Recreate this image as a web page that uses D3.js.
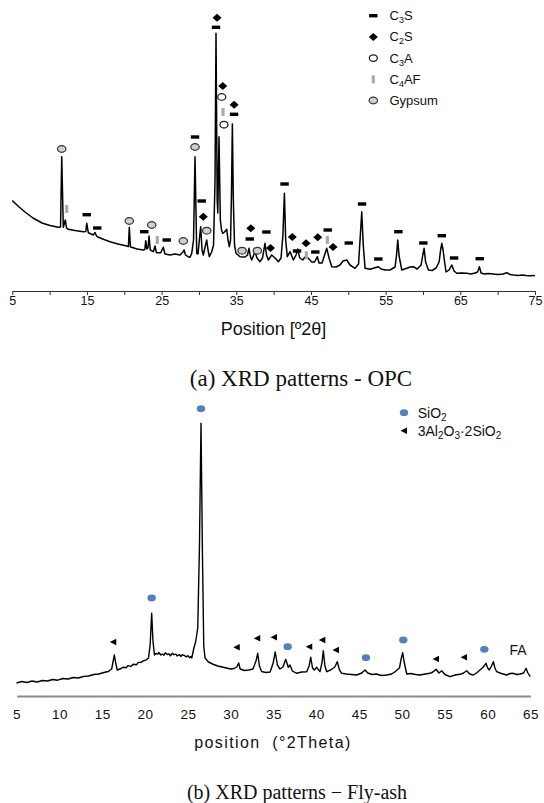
<!DOCTYPE html>
<html>
<head>
<meta charset="utf-8">
<script src="https://cdn.jsdelivr.net/npm/d3@7/dist/d3.min.js"></script>
<style>
  html, body { margin: 0; padding: 0; background: #fff; }
  svg { display: block; }
  text { font-family: "Liberation Sans", Arial, sans-serif; fill: #111; }
  .cap { font-family: "Liberation Serif", "Times New Roman", serif; }
</style>
</head>
<body>
<svg id="chart" width="544" height="803"></svg>
<script>
// ---------- OPC diffraction trace: [2θ, intensity] ----------
const opcTrace = [
  [5.00,90.5],[5.76,85],[6.70,79],[7.77,73],[8.98,68],[10.05,65.5],[11.16,63.7],[11.46,64],
  [11.62,134.3],[11.83,63.7],[12.10,71],[12.26,63],[12.50,61.7],[13.40,60.5],[14.51,59.3],
  [14.84,59.5],[14.97,67.7],[15.18,58.3],[15.85,56],[16.08,58.5],[16.28,55],[16.52,53.7],
  [17.28,51.5],[18.09,49.3],[19.16,47],[20.32,45],[20.55,44.5],[20.67,63.7],[20.82,44],
  [20.99,43.7],[21.70,42],[22.55,41],[22.75,41.5],[22.87,50.3],[23.01,42],[23.17,43],
  [23.31,55],[23.48,41],[23.89,39.3],[24.11,45],[24.29,38.3],[24.88,38.3],[25.22,43.7],
  [25.45,37],[26.12,36],[26.79,37],[27.46,36],[27.86,39],[28.00,41],[28.20,36],[28.53,34.3],
  [28.80,33.7],[29.03,37.7],[29.27,51],[29.47,134.3],[29.70,37.7],[29.87,37],[30.11,56],
  [30.23,64.3],[30.41,41],[30.58,36],[30.88,46],[31.04,51],[31.21,41],[31.39,34.3],
  [31.71,39.3],[31.95,46],[32.15,111],[32.28,257.7],[32.44,91],[32.52,78],[32.68,154.3],
  [32.86,71],[33.02,61],[33.18,57.7],[33.42,59],[33.72,61.7],[33.89,51],[34.06,44.3],
  [34.23,51],[34.36,101],[34.47,167],[34.60,91],[34.76,46],[34.96,37.7],[35.50,34.3],
  [36.17,34],[36.50,36],[36.70,42.7],[36.87,35],[37.06,31],[37.50,39.3],[37.77,33],
  [38.17,29.3],[38.51,33],[38.84,47.7],[39.04,36],[39.29,31],[39.74,36],[40.19,33],
  [40.63,29.3],[40.99,33],[41.24,56],[41.44,97.7],[41.61,51],[41.83,34.3],[42.20,39.3],
  [42.64,31],[43.00,36],[43.23,42],[43.50,33],[43.90,31],[44.21,34],[44.61,33],[45.10,29],
  [45.48,29],[45.85,34.3],[46.08,28],[46.48,28],[46.82,36],[47.11,42.7],[47.42,33],
  [47.78,24.3],[48.36,24],[48.89,26],[49.29,30],[49.79,31],[50.23,26],[50.90,22.7],
  [51.37,27],[51.61,56],[51.80,79.3],[52.00,46],[52.24,22.7],[52.91,21.7],[53.45,23],
  [54.02,24.3],[54.38,22],[54.92,21],[55.59,21],[56.26,24],[56.46,36],[56.62,51],[56.80,35],
  [57.16,21],[57.83,22.7],[58.27,24],[58.72,24.3],[59.21,22],[59.75,26],[59.97,36],
  [60.15,42.7],[60.35,29],[60.73,21],[61.22,20.5],[61.76,23],[62.16,29],[62.36,41],
  [62.52,47.7],[62.69,41],[62.89,29],[63.09,19],[63.49,21],[63.85,26],[64.16,20],
  [64.52,17.7],[65.23,18],[65.86,17.7],[66.44,17],[66.97,18],[67.31,19],[67.55,24.3],
  [67.78,18],[68.18,17],[68.71,17.5],[69.42,17],[70.05,16.5],[70.72,17],[71.22,18.3],
  [71.66,16.5],[72.10,16],[72.73,15.5],[73.27,16],[73.80,15.5],[74.34,15.2],[75.00,15.5]
];

// Phase labels above the OPC peaks: [2θ, height of the label]
const c3sPeaks = [[14.97,76.3],[16.38,63],[22.68,59.3],[25.68,51],[29.47,154],[30.37,90],
  [32.28,263.7],[34.70,176.7],[36.80,52],[39.03,59],[41.46,107],[43.13,40],[45.58,39],
  [47.24,61],[50.06,48],[51.84,87],[54.02,32],[56.70,59.3],[60.05,48],[62.52,55.3],
  [64.16,33],[67.60,32.3]];
const c2sPeaks = [[30.58,74.3],[32.42,273.3],[33.18,205],[34.70,186.3],[36.94,62.7],
  [39.58,43],[42.50,54],[44.34,47.7],[45.91,53.7],[47.96,44]];
const c3aPeaks = [[33.05,194],[33.35,166.3]];
const c4afPeaks = [[12.29,82],[24.42,51],[33.22,179],[44.38,35.7],[47.19,51]];
const gypsumPeaks = [[11.62,142],[20.67,70],[23.67,66],[27.90,50],[29.47,144],[31.04,60.3],
  [35.77,40.3],[37.82,40.3]];

const opcTicks = [5,10,15,20,25,30,35,40,45,50,55,60,65,70,75];
const opcTickLabels = [5,15,25,35,45,55,65,75];

// ---------- Fly-ash diffraction trace: [2θ, intensity] ----------
const faTrace = [
  [5.0,13],[5.6,14.5],[6.2,13.5],[6.8,15],[7.4,14],[8.0,15.5],[8.6,15],[9.2,16.5],[9.8,15.8],
  [10.4,17.5],[11.0,17],[11.6,18.5],[12.2,18],[12.8,19.5],[13.4,20],[14.0,21.5],[14.6,22],
  [15.2,23.5],[15.7,24.5],[16.1,27],[16.3,36],[16.41,41],[16.55,34],[16.75,26],[17.2,27.5],
  [17.45,28.8],[17.8,28.2],[18.0,30.4],[18.35,29.6],[18.6,31.8],[19.0,31.2],[19.2,33.6],
  [19.55,33.8],[19.8,35.2],[20.15,36.2],[20.4,38],[20.6,52],[20.77,82.7],[20.92,55],
  [21.1,41],[21.25,42.5],[21.5,41.8],[21.6,43.5],[21.85,41],[22.0,42],[22.2,40.8],
  [22.35,43.2],[22.6,41.5],[22.8,42.2],[22.95,40.2],[23.2,42.8],[23.35,41.3],[23.6,41.9],
  [23.75,40],[24.0,41.4],[24.2,39.6],[24.35,41.2],[24.6,40.5],[24.8,39],[25.0,40.4],
  [25.2,38.3],[25.35,39.6],[25.45,38],[25.7,48],[25.9,54],[26.15,68],
  [26.35,150],[26.53,272.7],[26.7,140],[26.85,50],[27.0,38],[27.4,34],[28.0,31.5],[28.5,30],
  [29.0,29],[29.5,28],[30.0,27],[30.4,27.5],[30.7,29],[30.93,33],[31.1,27],[31.6,25.5],
  [32.1,26],[32.6,27],[32.95,35],[33.15,42.7],[33.35,30],[33.6,24.5],[34.1,23.5],[34.6,24],
  [34.95,33],[35.2,44],[35.45,31],[35.75,27],[36.1,29],[36.42,36.7],[36.72,28.7],[36.92,31],
  [37.2,25],[37.7,22.7],[38.3,24],[38.87,24.3],[39.15,30],[39.34,38.7],[39.55,28],[39.76,26],
  [40.04,28.7],[40.42,24.3],[40.65,33],[40.81,45.3],[41.0,30],[41.21,24.3],[41.67,26],
  [42.15,29],[42.44,34.3],[42.7,26],[42.96,22.7],[43.5,22],[44.1,21.5],[44.71,21],[45.3,23],
  [45.68,26],[46.0,23],[46.5,21.5],[47.0,22],[47.6,20.5],[48.2,21],[48.8,22],[49.18,24.3],
  [49.7,28],[49.92,38],[50.08,43.3],[50.25,34],[50.55,22],[51.0,22.5],[51.6,21.5],[52.1,21],
  [52.7,22],[53.27,22.7],[53.6,24],[53.97,26.7],[54.32,23],[54.63,25.3],[55.0,21.5],
  [55.6,19.3],[56.2,21],[56.77,21.7],[57.2,23],[57.55,25.3],[57.9,22],[58.32,21],[58.7,23],
  [59.1,26],[59.5,29],[59.8,32.7],[60.0,28],[60.19,26],[60.45,30],[60.66,34.3],[60.85,28],
  [61.05,24.3],[61.6,22.5],[62.22,21],[62.6,22.5],[62.99,22.7],[63.4,21.5],[63.78,22],
  [64.2,23],[64.48,27.7],[64.7,23],[64.97,19.3]
];
const sio2Peaks = [[20.77,98],[26.53,287.3],[36.65,49.3],[45.79,38.3],[50.15,56],[59.61,46.7]];
const mulliteMarks = [[16.29,54],[30.70,48.7],[33.10,57.7],[35.05,58.7],[39.17,49.3],
  [40.69,56],[42.29,46],[53.97,37],[57.24,38.7]];
const faTicks = [5,10,15,20,25,30,35,40,45,50,55,60,65];

// ---------- drawing ----------
const svg = d3.select("#chart");
svg.append("rect").attr("width",544).attr("height",803).attr("fill","#fff");

// marker painters
const diamond = "M0,-4L4.5,0L0,4L-4.5,0Z";
const triLeft = "M-3.5,0L3,-3.2L3,3.2Z";
function drawC3S(g,x,y){ g.append("rect").attr("x",x-4.2).attr("y",y-1.7).attr("width",8.4).attr("height",3.4).attr("fill","#000"); }
function drawC2S(g,x,y){ g.append("path").attr("d",diamond).attr("transform",`translate(${x},${y})`).attr("fill","#000"); }
function drawC3A(g,x,y){ g.append("ellipse").attr("cx",x).attr("cy",y).attr("rx",4).attr("ry",3.3).attr("fill","#fff").attr("stroke","#222").attr("stroke-width",1.3); }
function drawC4AF(g,x,y){ g.append("rect").attr("x",x-1.6).attr("y",y-4).attr("width",3.2).attr("height",8).attr("fill","#aaa"); }
function drawGyp(g,x,y){ g.append("ellipse").attr("cx",x).attr("cy",y).attr("rx",4.2).attr("ry",3.4).attr("fill","#cfcfcf").attr("stroke","#333").attr("stroke-width",1.2); }
function drawSi(g,x,y){ g.append("ellipse").attr("cx",x).attr("cy",y).attr("rx",4.2).attr("ry",3.4).attr("fill","#4f81bd"); }
function drawMul(g,x,y){ g.append("path").attr("d",triLeft).attr("transform",`translate(${x},${y})`).attr("fill","#000"); }

// ===== Panel (a): OPC =====
const xA = d3.scaleLinear().domain([5,75]).range([12.3,535]);
const yA = d3.scaleLinear().domain([0,260]).range([291,31]);
const gA = svg.append("g");

gA.append("path").datum(opcTrace)
  .attr("d", d3.line().x(d=>xA(d[0])).y(d=>yA(d[1])))
  .attr("fill","none").attr("stroke","#000").attr("stroke-width",1.5).attr("stroke-linejoin","round");

const axA = gA.append("g").attr("transform",`translate(0,${yA(0)})`)
  .call(d3.axisBottom(xA).tickValues(opcTicks).tickSize(4).tickSizeOuter(0).tickPadding(1.5)
    .tickFormat(d => opcTickLabels.includes(d) ? d : ""));
axA.select(".domain").attr("stroke","#333");
axA.selectAll(".tick line").attr("stroke","#333");
axA.selectAll("text").attr("font-size",12.5).attr("font-family","Liberation Sans, Arial, sans-serif").attr("fill","#111");

const mA = gA.append("g");
c3sPeaks.forEach(d=>drawC3S(mA,xA(d[0]),yA(d[1])));
c2sPeaks.forEach(d=>drawC2S(mA,xA(d[0]),yA(d[1])));
c3aPeaks.forEach(d=>drawC3A(mA,xA(d[0]),yA(d[1])));
c4afPeaks.forEach(d=>drawC4AF(mA,xA(d[0]),yA(d[1])));
gypsumPeaks.forEach(d=>drawGyp(mA,xA(d[0]),yA(d[1])));

// legend (a)
const legA = [
  {draw:drawC3S, parts:[["C",0],["3",1],["S",0]]},
  {draw:drawC2S, parts:[["C",0],["2",1],["S",0]]},
  {draw:drawC3A, parts:[["C",0],["3",1],["A",0]]},
  {draw:drawC4AF, parts:[["C",0],["4",1],["AF",0]]},
  {draw:drawGyp, parts:[["Gypsum",0]]}
];
legA.forEach((item,i)=>{
  const y = 15.7 + i*21.2;
  item.draw(gA, 373.3, y);
  const t = gA.append("text").attr("x",389.5).attr("y",y+4.5).attr("font-size",13);
  item.parts.forEach(p=>{
    const s = t.append("tspan").text(p[0]);
    if (p[1]) s.attr("font-size",9).attr("dy",3); else if (t.selectAll("tspan").size()>1) s.attr("dy",-3);
  });
});

gA.append("text").attr("x",273.5).attr("y",334.5).attr("text-anchor","middle").attr("font-size",18)
  .text("Position [º2θ]");
svg.append("text").attr("class","cap").attr("x",301).attr("y",385.5).attr("text-anchor","middle")
  .attr("font-size",23).text("(a) XRD patterns - OPC");

// ===== Panel (b): Fly-ash =====
const xB = d3.scaleLinear().domain([5,65]).range([16.6,530.5]);
const yB = d3.scaleLinear().domain([0,280]).range([696,416]);
const gB = svg.append("g");

gB.append("path").datum(faTrace)
  .attr("d", d3.line().x(d=>xB(d[0])).y(d=>yB(d[1])))
  .attr("fill","none").attr("stroke","#000").attr("stroke-width",1.4).attr("stroke-linejoin","round");

const axB = gB.append("g").attr("transform",`translate(0,${yB(0)})`)
  .call(d3.axisBottom(xB).tickValues(faTicks).tickSize(0).tickPadding(13).tickSizeOuter(0));
axB.select(".domain").attr("stroke","#8c8c8c").attr("stroke-width",2.2);
axB.selectAll("text").attr("font-size",13.5).attr("letter-spacing","0.5px")
  .attr("font-family","Liberation Sans, Arial, sans-serif").attr("fill","#111");

const mB = gB.append("g");
sio2Peaks.forEach(d=>drawSi(mB,xB(d[0]),yB(d[1])));
mulliteMarks.forEach(d=>drawMul(mB,xB(d[0]),yB(d[1])));

// legend (b)
drawSi(gB,404,412.7);
const t1 = gB.append("text").attr("x",417.7).attr("y",417.5).attr("font-size",14);
t1.append("tspan").text("SiO");
t1.append("tspan").text("2").attr("font-size",10).attr("dy",3);
drawMul(gB,404,430.7);
const t2 = gB.append("text").attr("x",417.7).attr("y",435.5).attr("font-size",14);
[["3Al",0],["2",1],["O",0],["3",1],["·2SiO",0],["2",1]].forEach((p,i)=>{
  const s = t2.append("tspan").text(p[0]);
  if (p[1]) s.attr("font-size",10).attr("dy",3); else if (i>0) s.attr("dy",-3);
});
gB.append("text").attr("x",509.5).attr("y",654.5).attr("font-size",14).text("FA");

gB.append("text").attr("x",273).attr("y",748).attr("text-anchor","middle").attr("font-size",16)
  .attr("letter-spacing","1.4px").attr("xml:space","preserve").text("position  (°2Theta)");
svg.append("text").attr("class","cap").attr("x",297).attr("y",799).attr("text-anchor","middle")
  .attr("font-size",20).text("(b) XRD patterns \u2212 Fly-ash");
</script>
</body>
</html>
